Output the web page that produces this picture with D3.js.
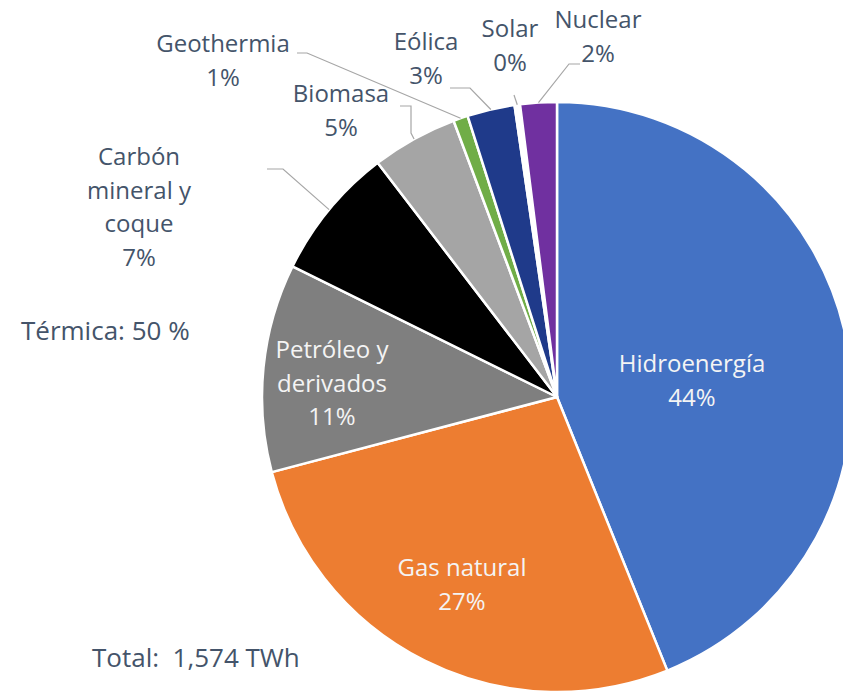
<!DOCTYPE html>
<html>
<head>
<meta charset="utf-8">
<script src="https://cdn.jsdelivr.net/npm/d3@7"></script>
<style>
  html, body { margin: 0; padding: 0; background: #ffffff; }
  svg { display: block; }
  text { font-family: "Open Sans", "Noto Sans", sans-serif; }
</style>
</head>
<body>
<svg id="chart" width="843" height="697"></svg>
<script>
// ---- data ----
const categories = ["Hidroenergía", "Gas natural", "Petróleo y derivados", "Carbón mineral y coque",
                    "Biomasa", "Geothermia", "Eólica", "Solar", "Nuclear"];
const shares = [43.9, 27.0, 11.4, 7.3, 4.7, 0.8, 2.6, 0.3, 2.0]; // % of total generation
const labelLines = [["Hidroenergía"], ["Gas natural"], ["Petróleo y", "derivados"],
                    ["Carbón", "mineral y", "coque"], ["Biomasa"], ["Geothermia"],
                    ["Eólica"], ["Solar"], ["Nuclear"]];
const colors = ["#4472C4", "#ED7D31", "#7F7F7F", "#000000", "#A5A5A5", "#70AD47", "#1F3A8A", "#FFFFFF", "#7030A0"];
const thermalNote = "Térmica: 50 %";
const totalNote = "Total:  1,574 TWh";

// ---- layout (not data) ----
const cx = 557, cy = 397, R = 295;
const lineH = 33.5;
const labelLayout = {
  "Hidroenergía":          { x: 692, y: 372, inside: true },
  "Gas natural":           { x: 462, y: 576, inside: true },
  "Petróleo y derivados":  { x: 332, y: 358, inside: true },
  "Carbón mineral y coque":{ x: 139, y: 165 },
  "Biomasa":               { x: 341, y: 102 },
  "Geothermia":            { x: 223, y: 52 },
  "Eólica":                { x: 426, y: 50 },
  "Solar":                 { x: 510, y: 37 },
  "Nuclear":               { x: 598, y: 28 }
};
const leaderLayout = {
  "Carbón mineral y coque": [[267, 169], [283, 169]],
  "Biomasa":    [[400, 106], [411, 106], [411, 133]],
  "Geothermia": [[297, 53], [307, 53]],
  "Eólica":     [[450, 88], [470, 88]],
  "Solar":      [[514, 95]],
  "Nuclear":    [[580, 64], [569, 64]]
};

const svg = d3.select("#chart");
const g = svg.append("g").attr("transform", `translate(${cx},${cy})`);

const data = categories.map((c, i) => ({ name: c, value: shares[i], lines: labelLines[i], color: colors[i] }));
const pie = d3.pie().value(d => d.value).sort(null).startAngle(0).endAngle(2 * Math.PI);
const arcs = pie(data);
const arc = d3.arc().innerRadius(0).outerRadius(R);

g.selectAll("path.slice").data(arcs).join("path")
  .attr("class", "slice")
  .attr("d", arc)
  .attr("fill", d => d.data.color)
  .attr("stroke", "#ffffff")
  .attr("stroke-width", 2.5)
  .attr("stroke-linejoin", "round");

const line = d3.line();
arcs.forEach(a => {
  const pts = leaderLayout[a.data.name];
  if (!pts) return;
  const mid = (a.startAngle + a.endAngle) / 2;
  const end = [cx + R * Math.sin(mid), cy - R * Math.cos(mid)];
  svg.append("path")
    .attr("d", line(pts.concat([end])))
    .attr("fill", "none")
    .attr("stroke", "#A6A6A6")
    .attr("stroke-width", 1.2);
});

const fmt = v => Math.round(v) + "%";
arcs.forEach(a => {
  const L = labelLayout[a.data.name];
  const lines = a.data.lines.concat([fmt(a.data.value)]);
  const t = svg.append("text")
    .attr("text-anchor", "middle")
    .attr("font-size", 24)
    .attr("fill", L.inside ? "#F4F4F4" : "#44546A");
  lines.forEach((s, i) => {
    t.append("tspan").attr("x", L.x).attr("y", L.y + i * lineH).text(s);
  });
});

svg.append("text").attr("x", 21).attr("y", 340).attr("font-size", 26)
  .attr("fill", "#44546A").text(thermalNote);
svg.append("text").attr("x", 92).attr("y", 667).attr("font-size", 26)
  .attr("fill", "#44546A").style("white-space", "pre").text(totalNote);
</script>
</body>
</html>
